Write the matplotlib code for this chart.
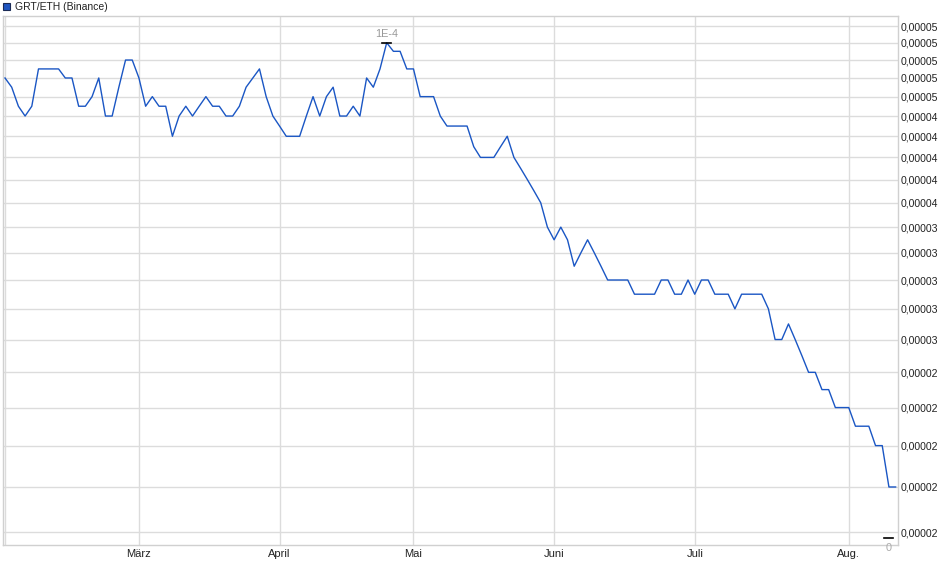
import matplotlib.pyplot as plt
from matplotlib.patches import Rectangle

plt.rcParams['font.family'] = ['Liberation Sans', 'DejaVu Sans']

# GRT/ETH (Binance), price in units of 0.000001 ETH, one value per data point
price = [52, 51, 49, 48, 49, 53, 53, 53, 53, 52,
         52, 49, 49, 50, 52, 48, 48, 51, 54, 54,
         52, 49, 50, 49, 49, 46, 48, 49, 48, 49,
         50, 49, 49, 48, 48, 49, 51, 52, 53, 50,
         48, 47, 46, 46, 46, 48, 50, 48, 50, 51,
         48, 48, 49, 48, 52, 51, 53, 56, 55, 55,
         53, 53, 50, 50, 50, 48, 47, 47, 47, 47,
         45, 44, 44, 44, 45, 46, 44, 43, 42, 41,
         40, 38, 37, 38, 37, 35, 36, 37, 36, 35,
         34, 34, 34, 34, 33, 33, 33, 33, 34, 34,
         33, 33, 34, 33, 34, 34, 33, 33, 33, 32,
         33, 33, 33, 33, 32, 30, 30, 31, 30, 29,
         28, 28, 27, 27, 26, 26, 26, 25, 25, 25,
         24, 24, 22, 22]

month_labels = ["März", "April", "Mai", "Juni", "Juli", "Aug."]
month_index = [20, 41, 61, 82, 103, 126]
y_ticks = list(range(20, 60, 2))

max_label = "1E-4"
min_label = "0"

scale = 1e-6
x = list(range(len(price)))
y = [p * scale for p in price]

fig = plt.figure(figsize=(9.4, 5.79), dpi=100)
ax = fig.add_axes([3 / 940, 1 - 545.3 / 579, 895.3 / 940, 529.3 / 579])

grid_col = "#dcdcdc"
ax.plot(x, y, color="#1a56c4", lw=1.0, zorder=3)
ax.set_yscale("log")
ax.set_xlim(-0.3, 133.4)
ax.set_ylim(19.461 * scale, 59.24 * scale)

ax.set_yticks([t * scale for t in y_ticks])
ax.set_yticklabels(["0,0000%d" % (t // 10) for t in y_ticks])
ax.yaxis.set_minor_locator(plt.NullLocator())
ax.yaxis.tick_right()
ax.set_xticks(month_index)
ax.set_xticklabels(month_labels)
ax.tick_params(axis="both", length=0, colors="#222222")
ax.tick_params(axis="y", pad=2, labelsize=7.6)
ax.tick_params(axis="x", pad=3, labelsize=8)
for lab in ax.get_yticklabels():
    lab.set_horizontalalignment("left")

ax.grid(True, color=grid_col, lw=1.0, zorder=0)
ax.axvline(0, color=grid_col, lw=1.0, zorder=0)
for s in ax.spines.values():
    s.set_color("#d0d0d0")
    s.set_linewidth(1.0)

# max marker
imax = price.index(max(price))
ax.plot([imax - 0.65, imax + 0.65], [y[imax], y[imax]], color="black", lw=1.2, zorder=4)
ax.annotate(max_label, (imax, y[imax]), xytext=(0, 6.5), textcoords="offset points",
            ha="center", va="center", fontsize=7.8, color="#999999")

# min marker
ax.plot([131.3, 132.6], [19.77 * scale, 19.77 * scale], color="black", lw=1.2,
        zorder=4, clip_on=False)
ax.annotate(min_label, (131.95, 19.77 * scale), xytext=(0, -7.5), textcoords="offset points",
            ha="center", va="center", fontsize=7.8, color="#aaaaaa", annotation_clip=False)

# legend
fig.patches.append(Rectangle((3 / 940, 1 - 10 / 579), 7 / 940, 7 / 579,
                             transform=fig.transFigure, facecolor="#1f55c0",
                             edgecolor="#1a2a55", lw=0.8))
fig.text(15 / 940, 1 - 6.5 / 579, "GRT/ETH (Binance)", fontsize=7.5,
         color="#222222", va="center", ha="left")

fig.savefig("out.png", dpi=100)
